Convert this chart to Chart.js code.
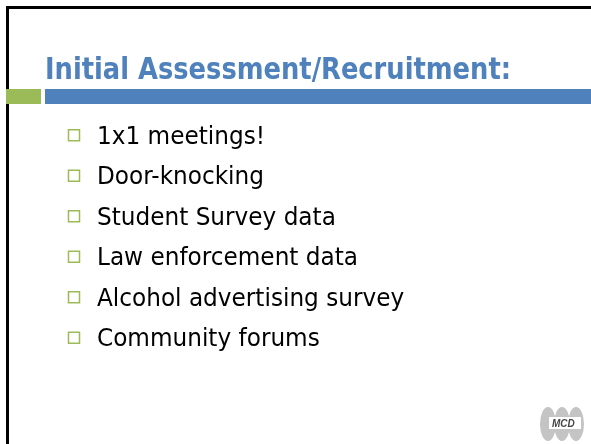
<!DOCTYPE html>
<html>
<head>
<meta charset="utf-8">
<script src="https://cdn.jsdelivr.net/npm/chart.js@4.4.1/dist/chart.umd.min.js"></script>
<style>
  html, body { margin: 0; padding: 0; background: #fff; }
  #wrap { width: 591px; height: 444px; position: relative; }
</style>
</head>
<body>
<div id="wrap"><canvas id="slide"></canvas></div>
<script>
// Slide content
const titleText = "Initial Assessment/Recruitment:";
const bulletItems = [
  "1x1 meetings!",
  "Door-knocking",
  "Student Survey data",
  "Law enforcement data",
  "Alcohol advertising survey",
  "Community forums"
];
const bulletX = [0, 0, 0, 0, 0, 0];

const blue = "#4f81bd";
const green = "#9bbb59";

// Draws the slide frame, title, accent bars and logo behind the bullets
const slidePlugin = {
  id: "slide",
  beforeDraw(chart) {
    const ctx = chart.ctx;
    ctx.save();
    ctx.fillStyle = "#fff";
    ctx.fillRect(0, 0, chart.width, chart.height);

    // black frame on top and left
    ctx.fillStyle = "#000";
    ctx.fillRect(6, 6, chart.width - 6, 3);
    ctx.fillRect(6, 6, 3, chart.height - 6);

    // accent bars under the title
    ctx.fillStyle = green;
    ctx.fillRect(6, 89, 35, 15);
    ctx.fillStyle = blue;
    ctx.fillRect(45, 89, chart.width - 45, 15);

    // title, squeezed to the reference width
    ctx.font = "bold 31px 'DejaVu Sans'";
    ctx.fillStyle = blue;
    ctx.textBaseline = "alphabetic";
    const w = ctx.measureText(titleText).width;
    const sx = 466 / w;
    ctx.translate(45, 79);
    ctx.scale(sx, 1);
    ctx.fillText(titleText, 0, 0);
    ctx.restore();

    // MCD logo in the corner
    ctx.save();
    ctx.fillStyle = "#c4c4c4";
    [548, 562, 576].forEach(cx => {
      ctx.beginPath();
      ctx.ellipse(cx, 424, 8, 17, 0, 0, Math.PI * 2);
      ctx.fill();
    });
    ctx.fillStyle = "#fff";
    ctx.fillRect(549, 417, 32, 12);
    ctx.fillStyle = "#444";
    ctx.font = "italic bold 10px 'Liberation Sans'";
    ctx.fillText("MCD", 552, 427);
    ctx.restore();
  },
  afterDatasetsDraw(chart) {
    const ctx = chart.ctx;
    const pts = chart.getDatasetMeta(0).data;
    ctx.save();
    ctx.font = "24px 'DejaVu Sans'";
    ctx.fillStyle = "#000";
    ctx.textBaseline = "alphabetic";
    const sx = 261 / ctx.measureText("Law enforcement data").width;
    pts.forEach((p, i) => {
      ctx.save();
      ctx.translate(p.x + 23, p.y + 8.5);
      ctx.scale(sx, 1);
      ctx.fillText(bulletItems[i], 0, 0);
      ctx.restore();
    });
    ctx.restore();
  }
};

new Chart(document.getElementById("slide"), {
  type: "scatter",
  data: {
    labels: bulletItems,
    datasets: [{
      data: bulletItems.map((label, i) => ({ x: bulletX[i], y: label })),
      pointStyle: "rect",
      pointRadius: 7.8,
      pointHoverRadius: 7.8,
      borderColor: green,
      borderWidth: 1.5,
      backgroundColor: "#fff",
      clip: false
    }]
  },
  options: {
    responsive: true,
    maintainAspectRatio: false,
    animation: false,
    events: [],
    layout: { padding: { top: 115, bottom: 86, left: 74, right: 0 } },
    plugins: { legend: { display: false }, tooltip: { enabled: false } },
    scales: {
      x: { type: "linear", min: 0, max: 1, display: false },
      y: { type: "category", labels: bulletItems, offset: true, display: false }
    }
  },
  plugins: [slidePlugin]
});
</script>
</body>
</html>
